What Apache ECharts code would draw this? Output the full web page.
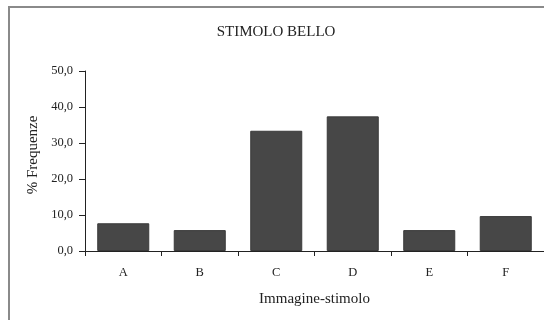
<!DOCTYPE html>
<html>
<head>
<meta charset="utf-8">
<script src="https://cdn.jsdelivr.net/npm/echarts@6/dist/echarts.min.js"></script>
<style>html,body{margin:0;padding:0;background:#fff}#c{width:544px;height:320px}</style>
</head>
<body>
<div id="c"></div>
<script>
const categories = ['A', 'B', 'C', 'D', 'E', 'F'];
const values = [7.7, 5.8, 33.4, 37.4, 5.8, 9.7];
const yTicks = [0, 10, 20, 30, 40, 50];

const chart = echarts.init(document.getElementById('c'), null, {renderer: 'canvas'});
const font = '"Liberation Serif", "DejaVu Serif", serif';
chart.setOption({
  animation: false,
  backgroundColor: '#fff',
  graphic: [{
    type: 'rect', shape: {x: 9, y: 7, width: 600, height: 400},
    style: {fill: 'none', stroke: '#8a8a8a', lineWidth: 2}, silent: true, z: 100
  }],
  title: {
    text: 'STIMOLO BELLO', left: 271, top: 20, textAlign: 'center',
    textStyle: {fontFamily: font, fontSize: 15, fontWeight: 'normal', color: '#222'}
  },
  grid: {left: 85, right: 0, top: 71, bottom: 69, containLabel: false},
  xAxis: {
    type: 'category', data: categories,
    name: 'Immagine-stimolo', nameLocation: 'middle', nameGap: 41,
    nameTextStyle: {fontFamily: font, fontSize: 15, color: '#222'},
    axisLine: {lineStyle: {color: '#222', width: 1}},
    axisTick: {show: true, length: 5, inside: false, alignWithLabel: false, lineStyle: {color: '#222'}},
    axisLabel: {fontFamily: font, fontSize: 12.5, color: '#222', margin: 15}
  },
  yAxis: {
    type: 'value', min: yTicks[0], max: yTicks[yTicks.length - 1], interval: 10,
    name: '% Frequenze', nameLocation: 'middle', nameGap: 40, nameRotate: 90,
    nameTextStyle: {fontFamily: font, fontSize: 15, color: '#222', padding: [0, 0, 0, 12]},
    axisLine: {show: true, lineStyle: {color: '#222', width: 1}},
    axisTick: {show: true, length: 6, lineStyle: {color: '#222'}},
    splitLine: {show: false},
    axisLabel: {fontFamily: font, fontSize: 12.5, color: '#222', margin: 12,
      formatter: v => v.toFixed(1).replace('.', ',')}
  },
  series: [{
    type: 'bar', data: values, barCategoryGap: '32%',
    itemStyle: {color: '#474747', borderColor: '#3a3a3a', borderWidth: 1}
  }]
});
</script>
</body>
</html>
